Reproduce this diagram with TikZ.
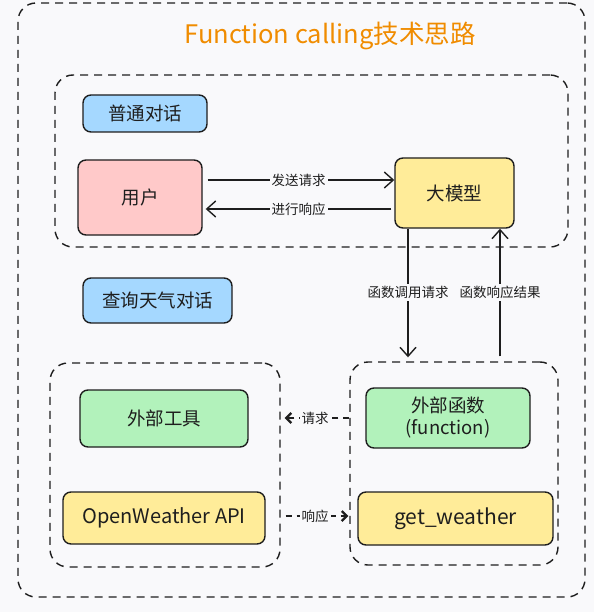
\documentclass[tikz,border=0pt]{standalone}
\usepackage{fontspec}
\setmainfont{Noto Sans CJK SC}
\usetikzlibrary{arrows.meta}
\definecolor{bgcol}{HTML}{F9F9FB}
\definecolor{ink}{HTML}{1E1E1E}
\definecolor{titleorange}{HTML}{F08C00}
\definecolor{bluefill}{HTML}{A5D8FF}
\definecolor{pinkfill}{HTML}{FFC9C9}
\definecolor{yellowfill}{HTML}{FFEC99}
\definecolor{greenfill}{HTML}{B2F2BB}
\tikzset{
  box/.style={draw=ink, line width=1.4pt, rounded corners=8pt, inner sep=0pt,
    text=ink, align=center, font=\fontsize{18.5}{23}\selectfont},
  dashbox/.style={draw=ink, line width=1.4pt, rounded corners=18pt, inner sep=0pt,
    dash pattern=on 8pt off 6pt},
  arr/.style={draw=ink, line width=1.4pt, -{Straight Barb[length=9pt,width=16pt]}},
  dasharr/.style={draw=ink, line width=1.4pt, dash pattern=on 6pt off 5pt,
    -{Straight Barb[length=5pt,width=10pt,line width=2.2pt]}},
  lbl/.style={fill=bgcol, inner sep=2pt, text=ink, font=\fontsize{13.5}{15}\selectfont},
}
\begin{document}
\begin{tikzpicture}[x=1pt,y=-1pt]
\useasboundingbox[fill=bgcol] (0,0) rectangle (594,612);
% dashed groups
\node[dashbox, minimum width=567pt, minimum height=594pt] (outer) at (301.5,300) {};
\node[dashbox, minimum width=513pt, minimum height=172pt] (chatbox) at (311.5,161) {};
\node[dashbox, minimum width=230pt, minimum height=204pt] (toolbox) at (165,465) {};
\node[dashbox, minimum width=208pt, minimum height=203pt] (funcbox) at (454,463.5) {};
% title
\node[text=titleorange, font=\fontsize{25.5}{30}\selectfont] (title) at (330,36) {Function calling技术思路};
% normal chat
\node[box, fill=bluefill, minimum width=124pt, minimum height=37pt] (plain) at (145,113.5) {普通对话};
\node[box, fill=pinkfill, minimum width=124pt, minimum height=75pt] (user) at (140,197.5) {用户};
\node[box, fill=yellowfill, minimum width=119pt, minimum height=70pt] (llm) at (454.5,193) {大模型};
% weather chat
\node[box, fill=bluefill, minimum width=149pt, minimum height=45pt] (query) at (157.5,300.5) {查询天气对话};
\node[box, fill=greenfill, minimum width=168pt, minimum height=57pt] (tool) at (164,418.5) {外部工具};
\node[box, fill=yellowfill, minimum width=202pt, minimum height=52pt, font=\fontsize{20}{24}\selectfont] (owapi) at (164,518) {OpenWeather API};
\node[box, fill=greenfill, minimum width=164pt, minimum height=60pt, font=\fontsize{18.5}{22}\selectfont] (func) at (448,418) {外部函数\\(function)};
\node[box, fill=yellowfill, minimum width=195pt, minimum height=53pt, font=\fontsize{21}{24}\selectfont] (getw) at (455.5,518.5) {get\_weather};
% connectors
\draw[arr, shorten <=5pt] (user.east |- 0,180) -- node[lbl] {发送请求} (llm.west |- 0,180);
\draw[arr, shorten <=3pt, shorten >=3pt] (llm.west |- 0,209) -- node[lbl] {进行响应} (user.east |- 0,209);
\draw[arr, shorten >=4pt] (llm.south -| 408,0) -- node[lbl, pos=0.48] {函数调用请求} (funcbox.north -| 408,0);
\draw[arr, shorten <=5pt] (funcbox.north -| 500,0) -- node[lbl, pos=0.52] {函数响应结果} (llm.south -| 500,0);
\draw[dasharr, shorten >=4pt] (funcbox.west |- 0,418) -- node[lbl] {请求} (toolbox.east |- 0,418);
\draw[dasharr, shorten <=5pt, shorten >=1pt] (toolbox.east |- 0,516) -- node[lbl] {响应} (funcbox.west |- 0,516);
\end{tikzpicture}
\end{document}
